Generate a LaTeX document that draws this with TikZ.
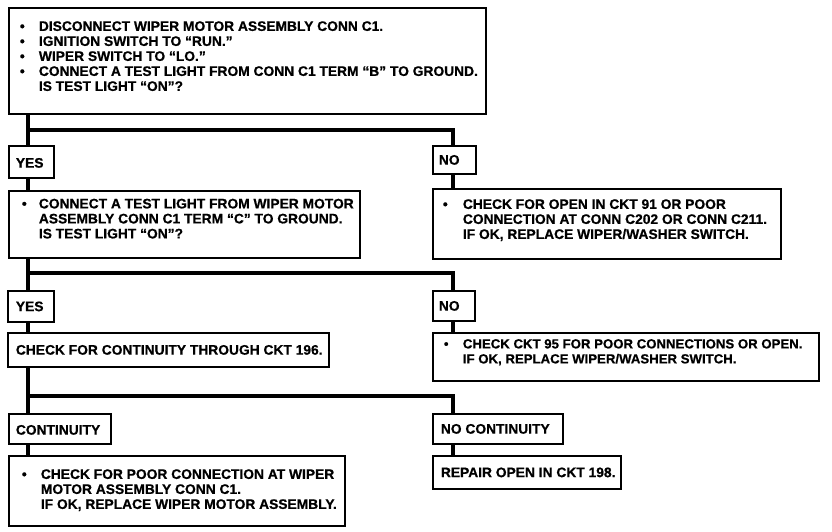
\documentclass[tikz,border=0pt]{standalone}
\usepackage{fontspec}
\setmainfont{Liberation Sans}[BoldFeatures={FakeBold=0.7}]
\newcommand{\lbox}[4][0pt]{\makebox[#2][l]{\hspace{#3}\raisebox{#1}[\height][\depth]{#4}}}
\newcommand{\blist}[2]{\begin{tabular}{@{}p{#1}@{}l@{}}#2\end{tabular}}
\newcommand{\bul}{\textbullet}
\begin{document}
\begin{tikzpicture}[x=1pt,y=-1pt,
  box/.style={draw, line width=1.8pt, anchor=north west, inner sep=0pt,
    font=\fontsize{13.8}{15}\selectfont\bfseries},
  conn/.style={line width=3.8pt}]
\useasboundingbox[fill=white] (0,0) rectangle (832,532);

% boxes
\node[box, minimum width=477pt, minimum height=106pt] (top) at (8,7)
  {\lbox[3pt]{477pt}{11pt}{\blist{19pt}{%
    \bul & DISCONNECT WIPER MOTOR ASSEMBLY CONN C1.\\
    \bul & IGNITION SWITCH TO “RUN.”\\
    \bul & WIPER SWITCH TO “LO.”\\
    \bul & CONNECT A TEST LIGHT FROM CONN C1 TERM “B” TO GROUND.\\
         & IS TEST LIGHT “ON”?}}};

\node[box, minimum width=45pt, minimum height=32pt] (yes1) at (8,145)
  {\lbox[-1pt]{45pt}{7pt}{YES}};
\node[box, minimum width=43pt, minimum height=28pt] (no1) at (432,145)
  {\lbox{43pt}{6pt}{NO}};

\node[box, minimum width=351pt, minimum height=67pt] (q2) at (8,190)
  {\lbox[4pt]{351pt}{13pt}{\blist{17pt}{%
    \bul & CONNECT A TEST LIGHT FROM WIPER MOTOR\\
         & ASSEMBLY CONN C1 TERM “C” TO GROUND.\\
         & IS TEST LIGHT “ON”?}}};
\node[box, minimum width=348pt, minimum height=70pt] (r1) at (432,188)
  {\lbox[3pt]{348pt}{10pt}{\blist{20pt}{%
    \bul & CHECK FOR OPEN IN CKT 91 OR POOR\\
         & CONNECTION AT CONN C202 OR CONN C211.\\
         & IF OK, REPLACE WIPER/WASHER SWITCH.}}};

\node[box, minimum width=46pt, minimum height=31pt] (yes2) at (7,290)
  {\lbox{46pt}{8pt}{YES}};
\node[box, minimum width=42pt, minimum height=30pt] (no2) at (432,290)
  {\lbox{42pt}{6pt}{NO}};

\node[box, minimum width=321pt, minimum height=34pt] (q3) at (7,332)
  {\lbox{321pt}{8pt}{CHECK FOR CONTINUITY THROUGH CKT 196.}};
\node[box, minimum width=386pt, minimum height=48pt] (r2) at (432,332)
  {\lbox[4pt]{386pt}{11pt}{\fontsize{13.2}{15}\selectfont\blist{19pt}{%
    \bul & CHECK CKT 95 FOR POOR CONNECTIONS OR OPEN.\\
         & IF OK, REPLACE WIPER/WASHER SWITCH.}}};

\node[box, minimum width=102pt, minimum height=30pt] (cont) at (8,413)
  {\lbox[-1pt]{102pt}{7pt}{CONTINUITY}};
\node[box, minimum width=130pt, minimum height=30pt] (nocont) at (432,413)
  {\lbox{130pt}{8pt}{NO CONTINUITY}};

\node[box, minimum width=336pt, minimum height=70pt] (r3) at (8,455)
  {\lbox{336pt}{13pt}{\blist{19pt}{%
    \bul & CHECK FOR POOR CONNECTION AT WIPER\\
         & MOTOR ASSEMBLY CONN C1.\\
         & IF OK, REPLACE WIPER MOTOR ASSEMBLY.}}};
\node[box, minimum width=188pt, minimum height=33pt] (r4) at (432,455)
  {\lbox{188pt}{8pt}{REPAIR OPEN IN CKT 198.}};

% junction coordinates
\coordinate (j1) at (28,130);  \coordinate (k1) at (453,130);
\coordinate (j2) at (28,273);  \coordinate (k2) at (453,273);
\coordinate (j3) at (28,396);  \coordinate (k3) at (453,396);

% connectors
\draw[conn] (top.south -| j1) -- (yes1.north -| j1);
\draw[conn] (j1) -- (k1) -- (no1.north -| k1);
\draw[conn] (yes1.south -| j1) -- (q2.north -| j1);
\draw[conn] (no1.south -| k1) -- (r1.north -| k1);

\draw[conn] (q2.south -| j2) -- (yes2.north -| j2);
\draw[conn] (j2) -- (k2) -- (no2.north -| k2);
\draw[conn] (yes2.south -| j2) -- (q3.north -| j2);
\draw[conn] (no2.south -| k2) -- (r2.north -| k2);

\draw[conn] (q3.south -| j3) -- (cont.north -| j3);
\draw[conn] (j3) -- (k3) -- (nocont.north -| k3);
\draw[conn] (cont.south -| j3) -- (r3.north -| j3);
\draw[conn] (nocont.south -| k3) -- (r4.north -| k3);
\end{tikzpicture}
\end{document}
